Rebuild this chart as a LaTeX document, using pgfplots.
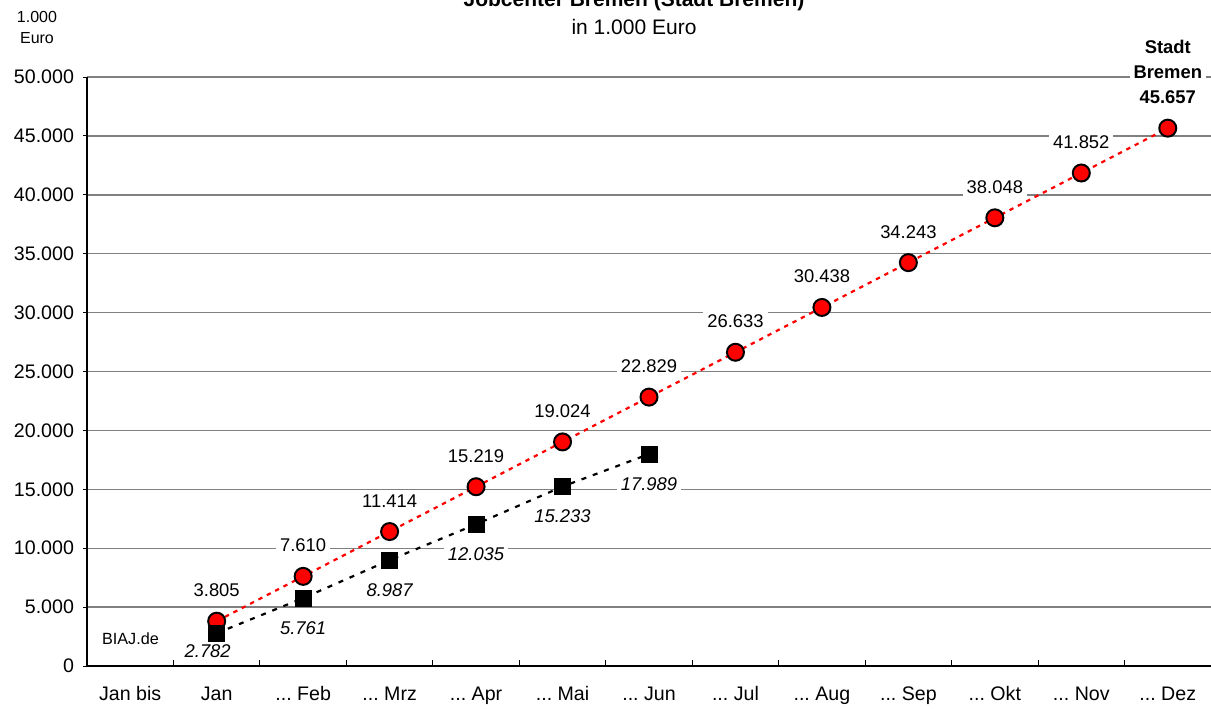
\documentclass[border=0pt]{standalone}
\usepackage{fontspec}
\setmainfont{Liberation Sans}
\usepackage{pgfplots}
\pgfplotsset{compat=1.18}
\frenchspacing
\protected\def\dezlabel{\textbf{Stadt}\\\textbf{Bremen}\\\textbf{45.657}}
\protected\def\ddd{...}
\begin{document}
\begin{tikzpicture}[x=1pt,y=1pt]
\useasboundingbox (0,0) rectangle (605.5,354.5);
\begin{axis}[
  at={(43.5pt,21.5pt)}, anchor=south west,
  scale only axis, width=562pt, height=294.5pt,
  xmin=-0.5, xmax=12.5, ymin=0, ymax=50000,
  axis x line*=bottom, axis y line*=left,
  axis line style={-, black, line width=0.6pt},
  every outer x axis line/.append style={-},
  every outer y axis line/.append style={-},
  xtick={0,1,2,3,4,5,6,7,8,9,10,11,12},
  xticklabels={{Jan bis}, {Jan}, {\ddd\ Feb}, {\ddd\ Mrz}, {\ddd\ Apr}, {\ddd\ Mai}, {\ddd\ Jun}, {\ddd\ Jul}, {\ddd\ Aug}, {\ddd\ Sep}, {\ddd\ Okt}, {\ddd\ Nov}, {\ddd\ Dez}},
  minor xtick={0.5,1.5,2.5,3.5,4.5,5.5,6.5,7.5,8.5,9.5,10.5,11.5,12.5},
  major x tick style={draw=none},
  minor x tick style={black, line width=0.5pt},
  minor tick length=3pt,
  ytick={0,5000,10000,15000,20000,25000,30000,35000,40000,45000,50000},
  tick align=inside,
  major tick length=2pt,
  ytick style={xshift=-2pt, black, line width=0.5pt},
  scaled y ticks=false,
  /pgf/number format/.cd, 1000 sep={.}, assume math mode=true, /pgfplots/.cd,
  ymajorgrids,
  major grid style={draw=gray, line width=0.7pt},
  ticklabel style={font=\fontsize{9.8}{11}\selectfont},
  yticklabel style={xshift=-3pt},
  xticklabel style={yshift=-6pt, text height=7.6pt, text depth=2pt},
  clip=false,
]
% red series
\addplot[red, line width=1.1pt, dash pattern=on 2.2pt off 2.5pt,
  mark=*, mark size=4.25pt, mark options={solid, fill=red, draw=black, line width=1pt}]
  coordinates {(1,3805) (2,7610) (3,11414) (4,15219) (5,19024) (6,22829) (7,26633) (8,30438) (9,34243) (10,38048) (11,41852) (12,45657)};
% black series
\addplot[black, line width=1.1pt, dash pattern=on 2.5pt off 3.5pt,
  mark=square*, mark size=4pt, mark options={solid, fill=black, draw=black, line width=0pt}]
  coordinates {(1,2782) (2,5761) (3,8987) (4,12035) (5,15233) (6,17989)};
% red labels
\addplot[draw=none, no markers, nodes near coords, point meta=explicit symbolic,
  every node near coord/.style={anchor=south, yshift=10.5pt, fill=white, inner xsep=2pt, inner ysep=1.5pt,
    align=center, font=\fontsize{9.2}{12.5}\selectfont}]
  coordinates {(1,3805)[3.805] (2,7610)[7.610] (3,11414)[11.414] (4,15219)[15.219] (5,19024)[19.024] (6,22829)[22.829] (7,26633)[26.633] (8,30438)[30.438] (9,34243)[34.243] (10,38048)[38.048] (11,41852)[41.852] (12,45657)[\dezlabel]};
% black labels
\addplot[draw=none, no markers, nodes near coords, point meta=explicit symbolic,
  every node near coord/.style={anchor=north, yshift=-10pt, fill=white, inner xsep=2pt, inner ysep=1.5pt,
    font=\fontsize{9.2}{11}\selectfont\itshape}]
  coordinates {(2,5761)[5.761] (3,8987)[8.987] (4,12035)[12.035] (5,15233)[15.233] (6,17989)[17.989]};
\node[fill=white, inner xsep=2pt, inner ysep=1.5pt, font=\fontsize{9.2}{11}\selectfont\itshape]
  at (axis cs:1,2782) [xshift=-4.5pt, yshift=-9pt] {2.782};
\end{axis}
\node[anchor=base west, font=\fontsize{8.1}{10}\selectfont] at (47.5,32.5) {BIAJ.de};
\node[anchor=base, font=\fontsize{8}{9}\selectfont] at (18.5,343) {1.000};
\node[anchor=base, font=\fontsize{8}{9}\selectfont] at (18.5,333) {Euro};
\node[anchor=base, font=\fontsize{10.5}{12}\selectfont\bfseries] at (317,351.5) {Jobcenter Bremen (Stadt Bremen)};
\node[anchor=base, font=\fontsize{10.5}{12}\selectfont] at (317,337.5) {in 1.000 Euro};
\end{tikzpicture}
\end{document}
